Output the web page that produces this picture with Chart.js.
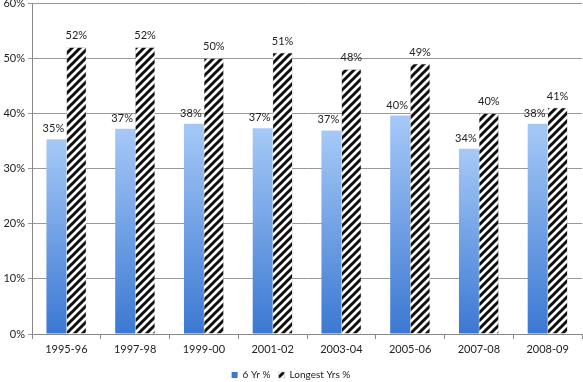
<!DOCTYPE html>
<html>
<head>
<meta charset="utf-8">
<script src="https://cdn.jsdelivr.net/npm/chart.js@4.4.1/dist/chart.umd.min.js"></script>
<style>
  html, body { margin: 0; padding: 0; background: #fff; }
  #wrap { width: 583px; height: 382px; }
</style>
</head>
<body>
<div id="wrap"><canvas id="chart"></canvas></div>
<script>
const years = ['1995-96', '1997-98', '1999-00', '2001-02', '2003-04', '2005-06', '2007-08', '2008-09'];
const sixYr = [35.3, 37.2, 38.1, 37.3, 36.9, 39.6, 33.6, 38.1];
const sixYrLabels = ['35%', '37%', '38%', '37%', '37%', '40%', '34%', '38%'];
const longest = [52, 52, 50, 51, 48, 49, 40, 41];
const longestLabels = ['52%', '52%', '50%', '51%', '48%', '49%', '40%', '41%'];
const yTicks = [0, 10, 20, 30, 40, 50, 60];

const FONT = 'Lato, "Open Sans", sans-serif';

// diagonal stripe fill for the second series
function makeHatch() {
  const c = document.createElement('canvas');
  c.width = 8; c.height = 8;
  const g = c.getContext('2d');
  g.fillStyle = '#fff';
  g.fillRect(0, 0, 8, 8);
  g.strokeStyle = '#111';
  g.lineWidth = 3;
  g.beginPath();
  g.moveTo(-2, 10); g.lineTo(10, -2);
  g.moveTo(-6, 6); g.lineTo(6, -6);
  g.moveTo(2, 14); g.lineTo(14, 2);
  g.stroke();
  return g.createPattern(c, 'repeat');
}
const hatch = makeHatch();

function blueFill(ctx) {
  const chart = ctx.chart;
  if (ctx.type !== 'data' || !chart.chartArea) return '#4a86d8';
  const y = chart.scales.y;
  const top = y.getPixelForValue(ctx.raw);
  const bottom = y.getPixelForValue(0);
  const grad = chart.ctx.createLinearGradient(0, top, 0, bottom);
  grad.addColorStop(0, '#a6c9f7');
  grad.addColorStop(1, '#3b78d2');
  return grad;
}

// value labels; the blue ones go under the hatched bars
const barLabels = {
  id: 'barLabels',
  beforeDatasetsDraw(chart) {
    const c = chart.ctx;
    const meta = chart.getDatasetMeta(0);
    c.save();
    c.font = '11px ' + FONT;
    c.fillStyle = '#222';
    c.textAlign = 'center';
    c.textBaseline = 'bottom';
    meta.data.forEach((bar, i) => {
      c.fillText(sixYrLabels[i], bar.x - 3, bar.y - 5);
    });
    c.restore();
  },
  afterDatasetsDraw(chart) {
    const c = chart.ctx;
    const meta = chart.getDatasetMeta(1);
    c.save();
    c.font = '11px ' + FONT;
    c.fillStyle = '#222';
    c.textAlign = 'center';
    c.textBaseline = 'bottom';
    meta.data.forEach((bar, i) => {
      c.fillText(longestLabels[i], bar.x, bar.y - 6);
    });
    c.restore();
  }
};

new Chart(document.getElementById('chart'), {
  type: 'bar',
  data: {
    labels: years,
    datasets: [
      { label: '6 Yr %', data: sixYr, backgroundColor: blueFill, borderWidth: 0 },
      { label: 'Longest Yrs %', data: longest, backgroundColor: hatch, borderColor: '#bbb', borderWidth: 0.5 }
    ]
  },
  options: {
    responsive: true,
    maintainAspectRatio: false,
    animation: false,
    layout: { padding: { top: 3, right: 1, left: 0, bottom: -8 } },
    datasets: { bar: { categoryPercentage: 0.58, barPercentage: 1 } },
    scales: {
      x: {
        grid: { display: true, drawOnChartArea: false, offset: true, color: '#888', tickLength: 5 },
        border: { color: '#888' },
        ticks: { color: '#222', font: { family: FONT, size: 11 }, padding: 4, maxRotation: 0 },
        afterFit(scale) { scale.height = 28; }
      },
      y: {
        min: 0, max: 60,
        afterBuildTicks(scale) { scale.ticks = yTicks.map(v => ({ value: v })); },
        grid: { color: '#999', tickLength: 4 },
        border: { color: '#888' },
        ticks: { color: '#222', font: { family: FONT, size: 11 }, padding: 3, callback: v => v + '%' },
        afterFit(scale) { scale.width = 32; scale.paddingTop = 0; }
      }
    },
    plugins: {
      legend: {
        position: 'bottom',
        labels: { boxWidth: 6, boxHeight: 6, padding: 8, color: '#222', font: { family: FONT, size: 10 } }
      },
      tooltip: { enabled: false }
    }
  },
  plugins: [barLabels]
});
</script>
</body>
</html>
